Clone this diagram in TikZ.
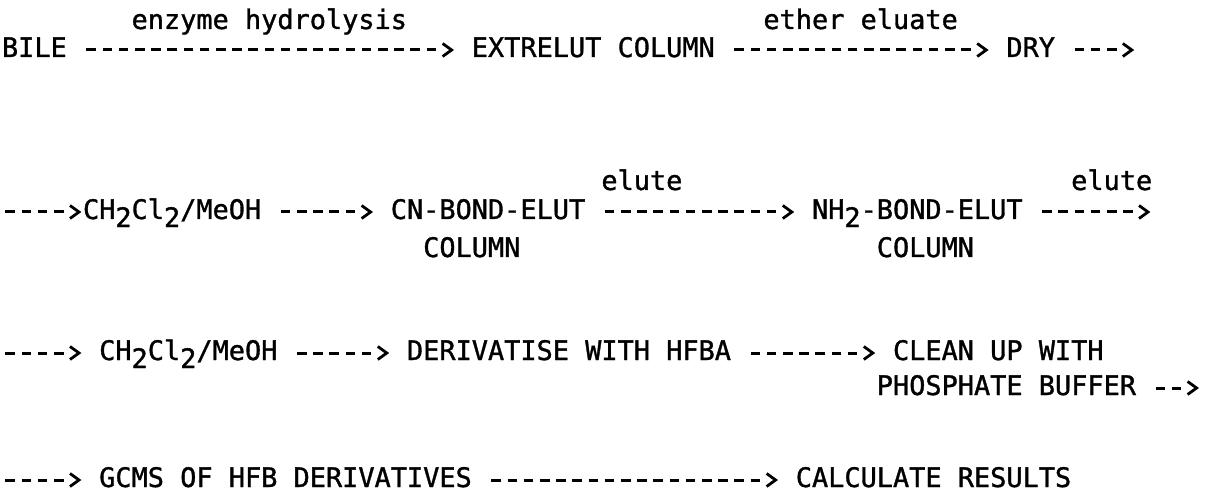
\documentclass[tikz,border=0pt]{standalone}
\usepackage{fontspec}
\newfontfamily\typefont{DejaVu Sans Mono}[FakeBold=1.2]
\usetikzlibrary{arrows.meta}
\newcommand\lowtwo{\raisebox{-0.3em}{2}}
\makeatletter
% open chevron tip, like a typed ">", with a small gap before the shaft
\pgfdeclarearrow{
  name=Chev,
  parameters={\the\pgfarrowlength,\the\pgfarrowwidth},
  setup code={
    \pgfarrowssettipend{0pt}
    \pgf@xa=\pgfarrowlength
    \advance\pgf@xa by 4pt
    \pgfarrowssetlineend{-\pgf@xa}
    \pgfarrowssetbackend{-\pgf@xa}
    \pgfarrowssavethe\pgfarrowlength
    \pgfarrowssavethe\pgfarrowwidth
  },
  drawing code={
    \pgfsetdash{}{0pt}
    \pgfsetmiterjoin
    \pgfsetlinewidth{2.8pt}
    \pgfpathmoveto{\pgfqpoint{-\pgfarrowlength}{.5\pgfarrowwidth}}
    \pgfpathlineto{\pgfpointorigin}
    \pgfpathlineto{\pgfqpoint{-\pgfarrowlength}{-.5\pgfarrowwidth}}
    \pgfusepathqstroke
  },
  defaults={length=9pt,width=13pt}
}
\makeatother
% typed dash arrow between two text nodes on the same line
\newcommand\flowto[2]{\draw[flow] ([xshift=19.5pt,yshift=7pt]#1.base east) -- ([xshift=-20.2pt,yshift=7pt]#2.base west);}
\begin{document}
\begin{tikzpicture}[x=1pt,y=-1pt,
  lbl/.style={anchor=base west,inner sep=0pt,outer sep=0pt,
    font=\typefont\fontsize{26.91}{30}\selectfont},
  flow/.style={line width=3pt,dash pattern=on 9.6pt off 6.6pt,-{Chev}}]
\def\pp{16.2}
\def\xo{2}
\useasboundingbox (0,0) rectangle (1214,502);

% row 1
\node[lbl] (enz) at ({\xo+8*\pp},29) {enzyme hydrolysis};
\node[lbl] (eth) at ({\xo+47*\pp},29) {ether eluate};
\node[lbl] (bile) at ({\xo},57) {BILE};
\node[lbl] (extrelut) at ({\xo+29*\pp},57) {EXTRELUT COLUMN};
\node[lbl] (dry) at ({\xo+62*\pp},57) {DRY};
\coordinate (dryout) at ({\xo+69*\pp+12},50);
\flowto{bile}{extrelut}
\flowto{extrelut}{dry}
\draw[flow] ([xshift=19.5pt,yshift=7pt]dry.base east) -- (dryout);

% row 2
\node[lbl] (elA) at ({\xo+37*\pp},190) {elute};
\node[lbl] (elB) at ({\xo+66*\pp},190) {elute};
\coordinate (in2) at ({\xo+3.3},212);
\node[lbl] (solA) at ({\xo+5*\pp},219) {CH\lowtwo Cl\lowtwo/MeOH};
\node[lbl] (cn) at ({\xo+24*\pp},219) {CN-BOND-ELUT};
\node[lbl] (cncol) at ({\xo+26*\pp},257) {COLUMN};
\node[lbl] (nh) at ({\xo+50*\pp},219) {NH\lowtwo-BOND-ELUT};
\node[lbl] (nhcol) at ({\xo+54*\pp},257) {COLUMN};
\coordinate (out2) at ({\xo+70*\pp+12},212);
\draw[flow] (in2) -- ([xshift=-4pt,yshift=7pt]solA.base west);
\flowto{solA}{cn}
\flowto{cn}{nh}
\draw[flow] ([xshift=19.5pt,yshift=7pt]nh.base east) -- (out2);

% row 3
\coordinate (in3) at ({\xo+3.3},353);
\node[lbl] (solB) at ({\xo+6*\pp},360) {CH\lowtwo Cl\lowtwo/MeOH};
\node[lbl] (deriv) at ({\xo+25*\pp},360) {DERIVATISE WITH HFBA};
\node[lbl] (clean) at ({\xo+55*\pp},360) {CLEAN UP WITH};
\node[lbl] (phos) at ({\xo+54*\pp},395) {PHOSPHATE BUFFER};
\coordinate (out3) at ({\xo+73*\pp+12},388);
\draw[flow] (in3) -- ([xshift=-20.2pt,yshift=7pt]solB.base west);
\flowto{solB}{deriv}
\flowto{deriv}{clean}
\draw[flow] ([xshift=19.5pt,yshift=7pt]phos.base east) -- (out3);

% row 4
\coordinate (in4) at ({\xo+3.3},480);
\node[lbl] (gcms) at ({\xo+6*\pp},487) {GCMS OF HFB DERIVATIVES};
\node[lbl] (calc) at ({\xo+49*\pp},487) {CALCULATE RESULTS};
\draw[flow] (in4) -- ([xshift=-20.2pt,yshift=7pt]gcms.base west);
\flowto{gcms}{calc}
\end{tikzpicture}
\end{document}
